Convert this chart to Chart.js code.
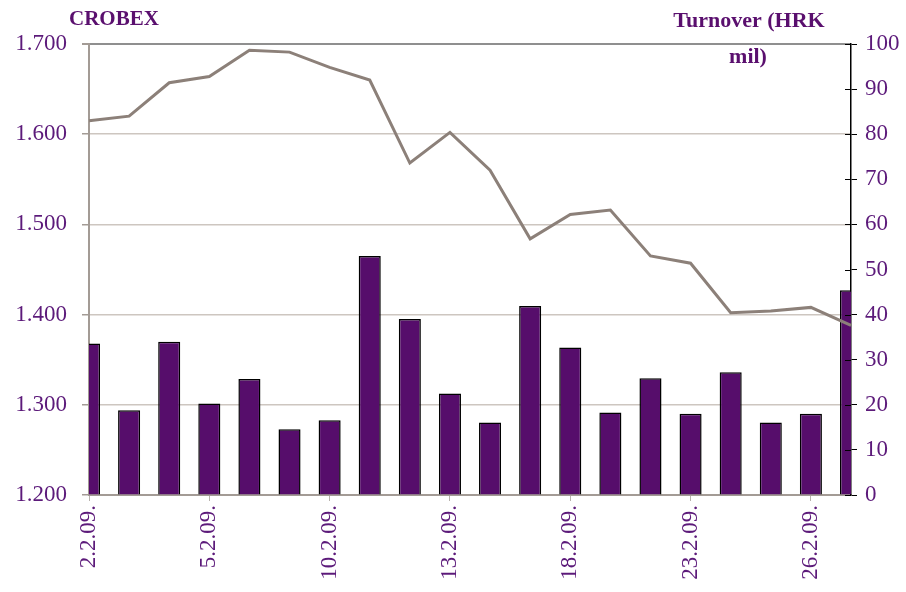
<!DOCTYPE html>
<html>
<head>
<meta charset="utf-8">
<script src="https://cdn.jsdelivr.net/npm/chart.js@4"></script>
<style>
  html, body { margin: 0; padding: 0; background: #fff; }
  #wrap { width: 906px; height: 592px; }
</style>
</head>
<body>
<div id="wrap"><canvas id="chart"></canvas></div>
<script>
// trading days, February 2009
const dates = ["2.2.09.", "3.2.09.", "4.2.09.", "5.2.09.", "6.2.09.",
  "9.2.09.", "10.2.09.", "11.2.09.", "12.2.09.", "13.2.09.",
  "16.2.09.", "17.2.09.", "18.2.09.", "19.2.09.", "20.2.09.",
  "23.2.09.", "24.2.09.", "25.2.09.", "26.2.09.", "27.2.09."];

// CROBEX index (left axis)
const crobex = [1615, 1620, 1657, 1664, 1693, 1691, 1674, 1660, 1568, 1602,
  1560, 1484, 1511, 1516, 1465, 1457, 1402, 1404, 1408, 1388];

// turnover, HRK mil (right axis)
const turnover = [33.6, 18.8, 34.0, 20.3, 25.7, 14.6, 16.6, 53.0, 39.0, 22.5,
  16.1, 41.9, 32.7, 18.3, 25.9, 18.0, 27.2, 16.1, 18.0, 45.4];

const leftTicks = [1200, 1300, 1400, 1500, 1600, 1700];
const rightTicks = [0, 10, 20, 30, 40, 50, 60, 70, 80, 90, 100];

const purple = "#5c1a7a";
const fontFamily = "'Liberation Serif', 'DejaVu Serif', serif";

// titles over the axes + little ticks crossing the right axis
const extras = {
  id: "extras",
  afterDraw(chart) {
    const ctx = chart.ctx;
    const y2 = chart.scales.y2;
    ctx.save();
    ctx.strokeStyle = "#000";
    ctx.lineWidth = 1;
    rightTicks.forEach(v => {
      const py = Math.round(y2.getPixelForValue(v)) + 0.5;
      ctx.beginPath();
      ctx.moveTo(y2.left - 6, py);
      ctx.lineTo(y2.left, py);
      ctx.stroke();
    });
    ctx.fillStyle = "#5a0f6e";
    ctx.font = "bold 21px " + fontFamily;
    ctx.textBaseline = "middle";
    ctx.textAlign = "left";
    ctx.fillText("CROBEX", 69, 20);
    ctx.font = "bold 22px " + fontFamily;
    ctx.textAlign = "center";
    ctx.fillText("Turnover (HRK", 749, 21);
    ctx.fillText("mil)", 748, 57);
    ctx.restore();
  }
};

new Chart(document.getElementById("chart"), {
  type: "bar",
  data: {
    labels: dates,
    datasets: [
      {
        type: "line",
        label: "CROBEX",
        data: crobex,
        yAxisID: "y",
        borderColor: "#8c8079",
        borderWidth: 3,
        pointRadius: 0,
        tension: 0,
        order: 0,
      },
      {
        type: "bar",
        label: "Turnover",
        data: turnover,
        yAxisID: "y2",
        backgroundColor: "#560d6b",
        borderColor: "#000",
        borderWidth: 1.5,
        barPercentage: 0.55,
        categoryPercentage: 1,
        order: 1,
      },
    ],
  },
  options: {
    responsive: true,
    maintainAspectRatio: false,
    animation: false,
    layout: { padding: { top: 44, left: 0, right: 0, bottom: 0 } },
    plugins: {
      legend: { display: false },
      tooltip: { enabled: false },
    },
    scales: {
      x: {
        offset: false,
        afterFit: (s) => { s.height = 97; },
        grid: {
          display: true,
          offset: false,
          drawOnChartArea: false,
          drawTicks: true,
          tickLength: 6,
          color: "#b8b2ad",
        },
        border: { color: "#a39b95", width: 2 },
        ticks: {
          autoSkip: false,
          maxRotation: 90,
          minRotation: 90,
          padding: 4,
          color: purple,
          font: { family: fontFamily, size: 23 },
          callback: function (val, i) {
            return i % 3 === 0 ? this.getLabelForValue(val) : null;
          },
        },
      },
      y: {
        position: "left",
        min: 1200,
        max: 1700,
        afterFit: (s) => { s.width = 89; },
        afterBuildTicks: (s) => { s.ticks = leftTicks.map(v => ({ value: v })); },
        grid: {
          color: (c) => c.tick && c.tick.value === 1700 ? "#8f8f8f" : "#cdc6c0",
          lineWidth: (c) => c.tick && c.tick.value === 1700 ? 2 : 1.5,
          tickColor: "#a39b95",
          tickLength: 7,
        },
        border: { color: "#a39b95", width: 2 },
        ticks: {
          padding: 15,
          color: purple,
          font: { family: fontFamily, size: 23 },
          callback: (v) => (v / 1000).toFixed(3),
        },
      },
      y2: {
        position: "right",
        min: 0,
        max: 100,
        afterFit: (s) => { s.width = 55; },
        afterBuildTicks: (s) => { s.ticks = rightTicks.map(v => ({ value: v })); },
        grid: {
          drawOnChartArea: false,
          tickColor: "#000",
          tickLength: 6,
        },
        border: { color: "#000", width: 1.5 },
        ticks: {
          padding: 8,
          color: purple,
          font: { family: fontFamily, size: 23 },
        },
      },
    },
  },
  plugins: [extras],
});
</script>
</body>
</html>
